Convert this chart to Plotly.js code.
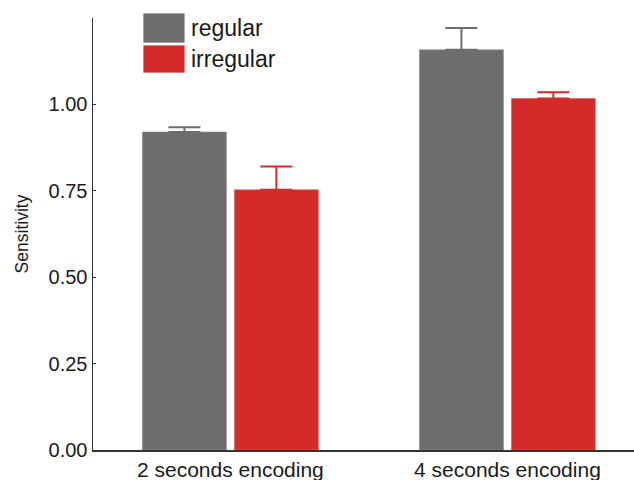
<!DOCTYPE html>
<html>
<head>
<meta charset="utf-8">
<script src="https://cdn.plot.ly/plotly-3.0.1.min.js"></script>
<style>html,body{margin:0;padding:0;background:#fff;}#chart{width:634px;height:480px;}</style>
</head>
<body>
<div id="chart"></div>
<script>
const categories = ["2 seconds encoding", "4 seconds encoding"];
const seriesNames = ["regular", "irregular"];
const regularValues = [0.920, 1.158];
const regularErrors = [0.014, 0.063];
const irregularValues = [0.753, 1.017];
const irregularErrors = [0.067, 0.018];
const yTickValues = [0, 0.25, 0.5, 0.75, 1.0];

const grey = "#6e6c6c";
const red = "#d32a2a";

const traces = [
  {
    type: "bar", name: seriesNames[0], x: categories, y: regularValues,
    marker: {color: grey, line: {color: "#8a8888", width: 0.6}},
    error_y: {type: "data", symmetric: false, array: regularErrors, arrayminus: [0, 0],
              color: grey, thickness: 2, width: 16},
    showlegend: false
  },
  {
    type: "bar", name: seriesNames[1], x: categories, y: irregularValues,
    marker: {color: red, line: {color: "#e06060", width: 0.6}},
    error_y: {type: "data", symmetric: false, array: irregularErrors, arrayminus: [0, 0],
              color: red, thickness: 2, width: 16},
    showlegend: false
  }
];

const legendColors = [grey, red];
const shapes = [];
const annotations = [];
const legTop = [1.0116, 0.9375];
const legBot = [0.942, 0.8727];
for (let i = 0; i < seriesNames.length; i++) {
  shapes.push({type: "rect", xref: "paper", yref: "paper", x0: 0.0924, x1: 0.170,
               y0: legBot[i], y1: legTop[i], fillcolor: legendColors[i],
               line: {color: "#ffffff", width: 0.8}, layer: "above"});
  annotations.push({xref: "paper", yref: "paper", x: 0.178, y: (legTop[i] + legBot[i]) / 2,
                    xanchor: "left", yanchor: "middle", showarrow: false,
                    text: seriesNames[i],
                    font: {family: "Liberation Sans, Arial, sans-serif", size: 23, color: "#1a1a1a"}});
}

const layout = {
  width: 634, height: 480,
  margin: {l: 93, r: 0, t: 18, b: 30, pad: 0},
  paper_bgcolor: "#ffffff", plot_bgcolor: "#ffffff",
  font: {family: "Liberation Sans, Arial, sans-serif", color: "#1a1a1a"},
  barmode: "group", bargap: 0.336, bargroupgap: 0.087,
  showlegend: false,
  xaxis: {
    type: "category", range: [-0.496, 1.457],
    showline: true, linecolor: "#333333", linewidth: 1.5,
    ticks: "", showgrid: false, zeroline: false,
    tickfont: {size: 21, color: "#1a1a1a"}
  },
  yaxis: {
    range: [0, 1.25], tickvals: yTickValues, tickformat: ".2f",
    showline: true, linecolor: "#333333", linewidth: 1.5,
    ticks: "inside", ticklen: 3, tickcolor: "#333333",
    showgrid: false, zeroline: false,
    tickfont: {size: 20, color: "#1a1a1a"},
    title: {text: "Sensitivity", font: {size: 17.5, color: "#1a1a1a"}, standoff: 15}
  },
  shapes: shapes,
  annotations: annotations
};

Plotly.newPlot("chart", traces, layout, {displayModeBar: false, staticPlot: true});
</script>
</body>
</html>
